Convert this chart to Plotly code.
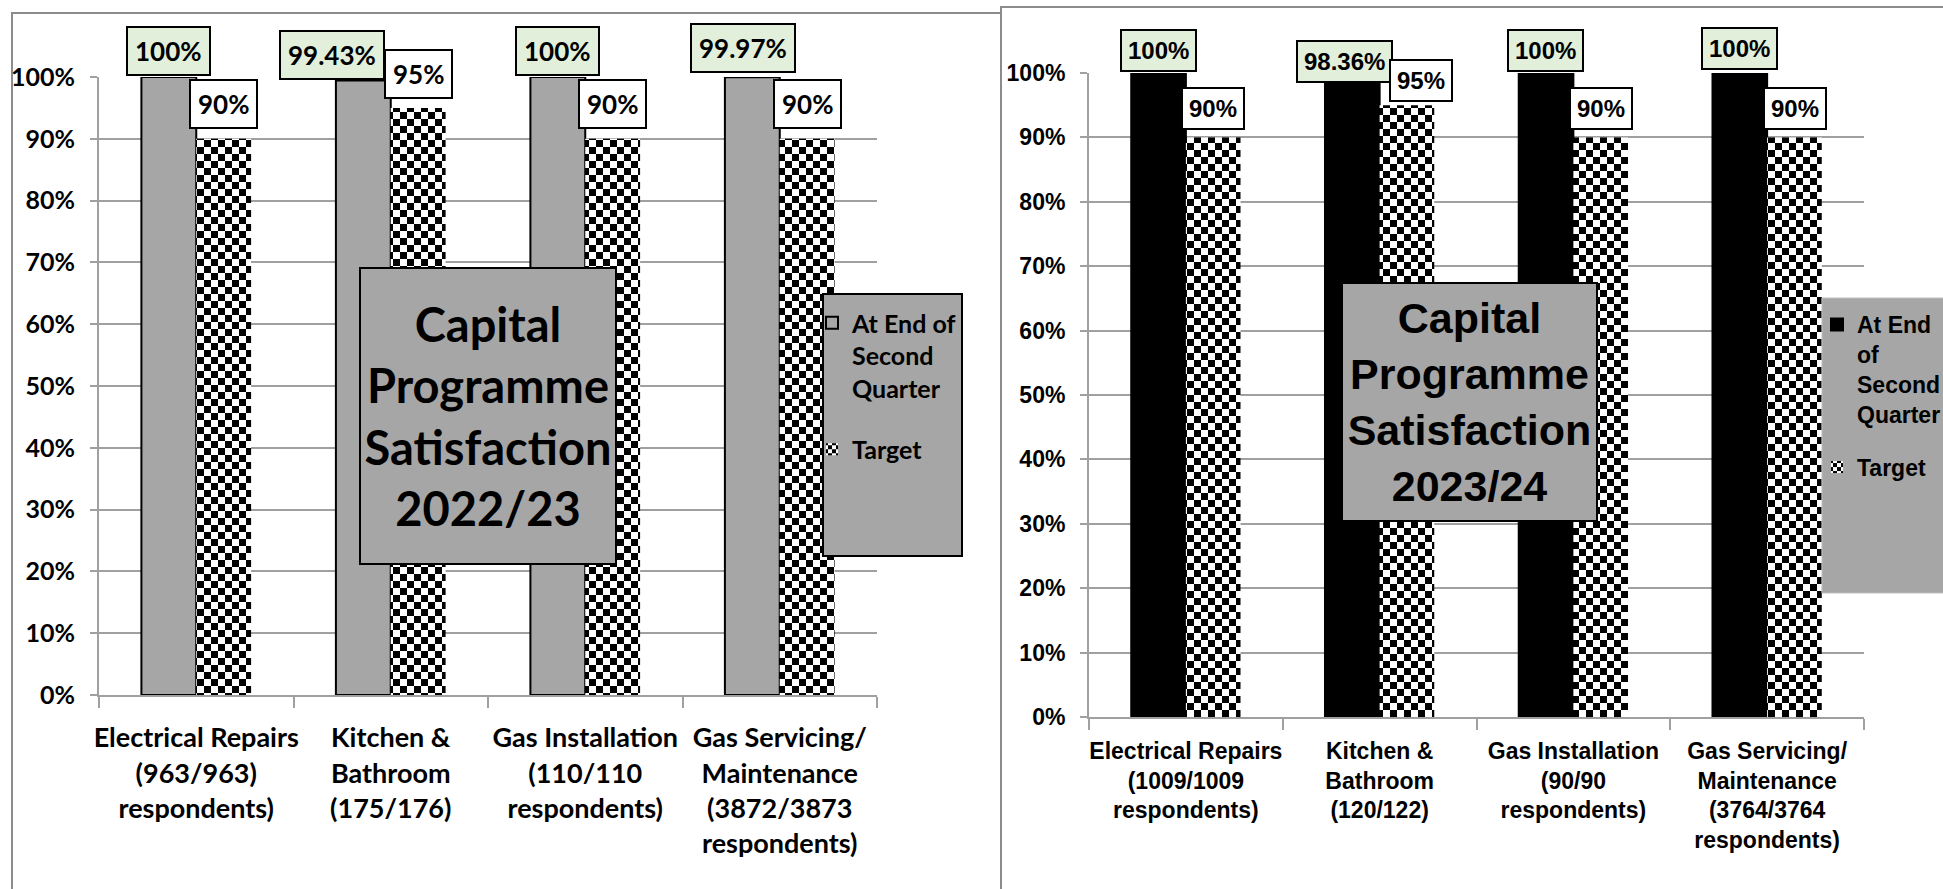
import plotly.graph_objects as go

W, H = 1943, 889

# ---------------- data ----------------
categories_2223 = [
    "Electrical Repairs<br>(963/963)<br>respondents)",
    "Kitchen &<br>Bathroom<br>(175/176)",
    "Gas Installation<br>(110/110<br>respondents)",
    "Gas Servicing/<br>Maintenance<br>(3872/3873<br>respondents)",
]
actual_2223 = [100, 99.43, 100, 99.97]
target_2223 = [90, 95, 90, 90]

categories_2324 = [
    "Electrical Repairs<br>(1009/1009<br>respondents)",
    "Kitchen &<br>Bathroom<br>(120/122)",
    "Gas Installation<br>(90/90<br>respondents)",
    "Gas Servicing/<br>Maintenance<br>(3764/3764<br>respondents)",
]
actual_2324 = [100, 98.36, 100, 100]
target_2324 = [90, 95, 90, 90]

y_ticks = [0, 10, 20, 30, 40, 50, 60, 70, 80, 90, 100]

# ---------------- styling helpers ----------------
NARROW = "Lato, Roboto, sans-serif"
WIDE = "Liberation Sans, Arial, sans-serif"
GREY = "#A6A6A6"
AXIS_GREY = "#A0A0A0"
FRAME_GREY = "#8C8C8C"


def px_x(x):
    return x / W


def px_y(y):
    return 1 - y / H


def pct(v):
    return f"{v:g}%"


fig = go.Figure()

panels = [
    dict(cats=categories_2223, actual=actual_2223, target=target_2223,
         xa="x", ya="y", legend="legend", bar_color=GREY,
         actual_name="At End of<br>Second<br>Quarter",
         font=NARROW, label_size=26, pad=7,
         # (xshift, yshift) tweaks for individual value boxes
         actual_nudge=[(0, 1), (-31, 1), (0, 1), (-9, 4)],
         target_nudge=[(0, 10), (0, 9), (0, 10), (0, 10)]),
    dict(cats=categories_2324, actual=actual_2324, target=target_2324,
         xa="x2", ya="y2", legend="legend2", bar_color="#000000",
         actual_name="At End<br>of<br>Second<br>Quarter",
         font=WIDE, label_size=24, pad=6,
         actual_nudge=[(0, 1), (-8, 1), (0, 1), (0, 3)],
         target_nudge=[(0, 7), (14, 3), (0, 7), (0, 7)]),
]

annotations = []
for k, p in enumerate(panels):
    fig.add_trace(go.Bar(
        x=p["cats"], y=p["actual"], name=p["actual_name"],
        xaxis=p["xa"], yaxis=p["ya"], legend=p["legend"],
        legendgroup=f"actual{k}",
        marker=dict(color=p["bar_color"], line=dict(color="black", width=2)),
        cliponaxis=False, hoverinfo="skip",
    ))
    fig.add_trace(go.Bar(
        x=p["cats"], y=p["target"], name="Target",
        xaxis=p["xa"], yaxis=p["ya"], legend=p["legend"],
        legendgroup=f"target{k}",
        marker=dict(color="white", line=dict(width=0),
                    pattern=dict(shape="+", fgcolor="black", bgcolor="white",
                                 size=14, solidity=0.5)),
        cliponaxis=False, hoverinfo="skip",
    ))
    for i, cat in enumerate(p["cats"]):
        for vals, side, bg, nudge in (
            (p["actual"], -27.5, "#E2EFDA", p["actual_nudge"]),
            (p["target"], 27.5, "#FFFFFF", p["target_nudge"]),
        ):
            annotations.append(dict(
                x=cat, y=vals[i], xref=p["xa"], yref=p["ya"],
                text=pct(vals[i]), showarrow=False,
                xanchor="center", yanchor="bottom",
                xshift=side + nudge[i][0], yshift=nudge[i][1],
                bgcolor=bg, bordercolor="black", borderwidth=2,
                borderpad=p["pad"],
                font=dict(family=p["font"], size=p["label_size"],
                          color="black", weight="bold"),
            ))

# chart titles in grey boxes
annotations.append(dict(
    x=px_x(488), y=px_y(416), xref="paper", yref="paper",
    text="Capital<br>Programme<br>Satisfaction<br>2022/23", showarrow=False,
    xanchor="center", yanchor="middle", width=254, height=294,
    bgcolor=GREY, bordercolor="black", borderwidth=2, borderpad=0,
    font=dict(family=NARROW, size=47, color="black", weight="bold"),
))
annotations.append(dict(
    x=px_x(1469.5), y=px_y(402), xref="paper", yref="paper",
    text="Capital<br>Programme<br>Satisfaction<br>2023/24", showarrow=False,
    xanchor="center", yanchor="middle", width=253, height=236,
    bgcolor=GREY, bordercolor="black", borderwidth=2, borderpad=0,
    font=dict(family=WIDE, size=43, color="black", weight="bold"),
))

shapes = [
    # panel frames
    dict(type="rect", xref="paper", yref="paper", layer="below",
         x0=px_x(12), x1=px_x(1001), y0=px_y(13), y1=px_y(910),
         line=dict(color=FRAME_GREY, width=2), fillcolor="rgba(0,0,0,0)"),
    dict(type="rect", xref="paper", yref="paper", layer="below",
         x0=px_x(1001), x1=px_x(1970), y0=px_y(7), y1=px_y(910),
         line=dict(color=FRAME_GREY, width=2), fillcolor="rgba(0,0,0,0)"),
    # legend panels
    dict(type="rect", xref="paper", yref="paper", layer="above",
         x0=px_x(823), x1=px_x(962), y0=px_y(294), y1=px_y(556),
         line=dict(color="black", width=2), fillcolor=GREY),
    dict(type="rect", xref="paper", yref="paper", layer="above",
         x0=px_x(1822), x1=px_x(1970), y0=px_y(298), y1=px_y(593),
         line=dict(color="#BFBFBF", width=1), fillcolor=GREY),
]


def x_axis(domain, anchor, font, size, standoff):
    return dict(
        domain=domain, anchor=anchor, type="category", automargin=False,
        showline=True, linecolor=AXIS_GREY, linewidth=2,
        ticks="outside", tickson="boundaries", ticklen=11,
        tickcolor=AXIS_GREY, tickwidth=2, showgrid=False, tickangle=0,
        ticklabelstandoff=standoff, fixedrange=True,
        tickfont=dict(family=font, size=size, color="black", weight="bold"),
    )


def y_axis(domain, anchor, font, size, standoff):
    return dict(
        domain=domain, anchor=anchor, range=[0, 100], automargin=False,
        tickmode="array", tickvals=y_ticks, ticktext=[pct(v) for v in y_ticks],
        showline=True, linecolor=AXIS_GREY, linewidth=2,
        ticks="outside", ticklen=7, tickcolor=AXIS_GREY, tickwidth=2,
        showgrid=True, gridcolor=AXIS_GREY, gridwidth=2,
        zeroline=False, ticklabelstandoff=standoff, fixedrange=True,
        tickfont=dict(family=font, size=size, color="black", weight="bold"),
    )


fig.update_layout(
    width=W, height=H, autosize=False,
    margin=dict(l=0, r=0, t=0, b=0, autoexpand=False),
    paper_bgcolor="white", plot_bgcolor="white",
    barmode="group", bargap=0.436, bargroupgap=0,
    xaxis=x_axis([px_x(99), px_x(877)], "y", NARROW, 27, 18),
    yaxis=y_axis([px_y(695), px_y(77)], "x", NARROW, 25, 10),
    xaxis2=x_axis([px_x(1089), px_x(1864)], "y2", WIDE, 23, 12),
    yaxis2=y_axis([px_y(717), px_y(73)], "x2", WIDE, 23, 10),
    legend=dict(
        x=px_x(812), y=px_y(300), xanchor="left", yanchor="top",
        bgcolor="rgba(0,0,0,0)", borderwidth=0, valign="top",
        tracegroupgap=26,
        font=dict(family=NARROW, size=25, color="black", weight="bold"),
    ),
    legend2=dict(
        x=px_x(1817), y=px_y(303), xanchor="left", yanchor="top",
        bgcolor="rgba(0,0,0,0)", borderwidth=0, valign="top",
        tracegroupgap=20,
        font=dict(family=WIDE, size=23, color="black", weight="bold"),
    ),
    annotations=annotations,
    shapes=shapes,
    showlegend=True,
)

# Render the "Target" pattern fill as a black/white checkerboard.
checker_js = """
(function(){
  var gd = document.getElementById('{plot_id}');
  var NS = 'http://www.w3.org/2000/svg';
  function checker(){
    var pats = gd.querySelectorAll('pattern');
    for (var i = 0; i < pats.length; i++){
      var p = pats[i];
      if (p.getAttribute('data-checker')) continue;
      var s = parseFloat(p.getAttribute('width'));
      var h = s / 2;
      while (p.firstChild) p.removeChild(p.firstChild);
      [[0,0,s,s,'#ffffff'],[0,0,h,h,'#000000'],[h,h,h,h,'#000000']].forEach(function(r){
        var e = document.createElementNS(NS, 'rect');
        e.setAttribute('x', r[0]); e.setAttribute('y', r[1]);
        e.setAttribute('width', r[2]); e.setAttribute('height', r[3]);
        e.setAttribute('fill', r[4]);
        e.setAttribute('shape-rendering', 'crispEdges');
        p.appendChild(e);
      });
      p.setAttribute('data-checker', '1');
    }
  }
  checker();
  gd.on('plotly_afterplot', checker);
})();
"""

fig.write_html("out.html", post_script=checker_js, config={"displayModeBar": False})
